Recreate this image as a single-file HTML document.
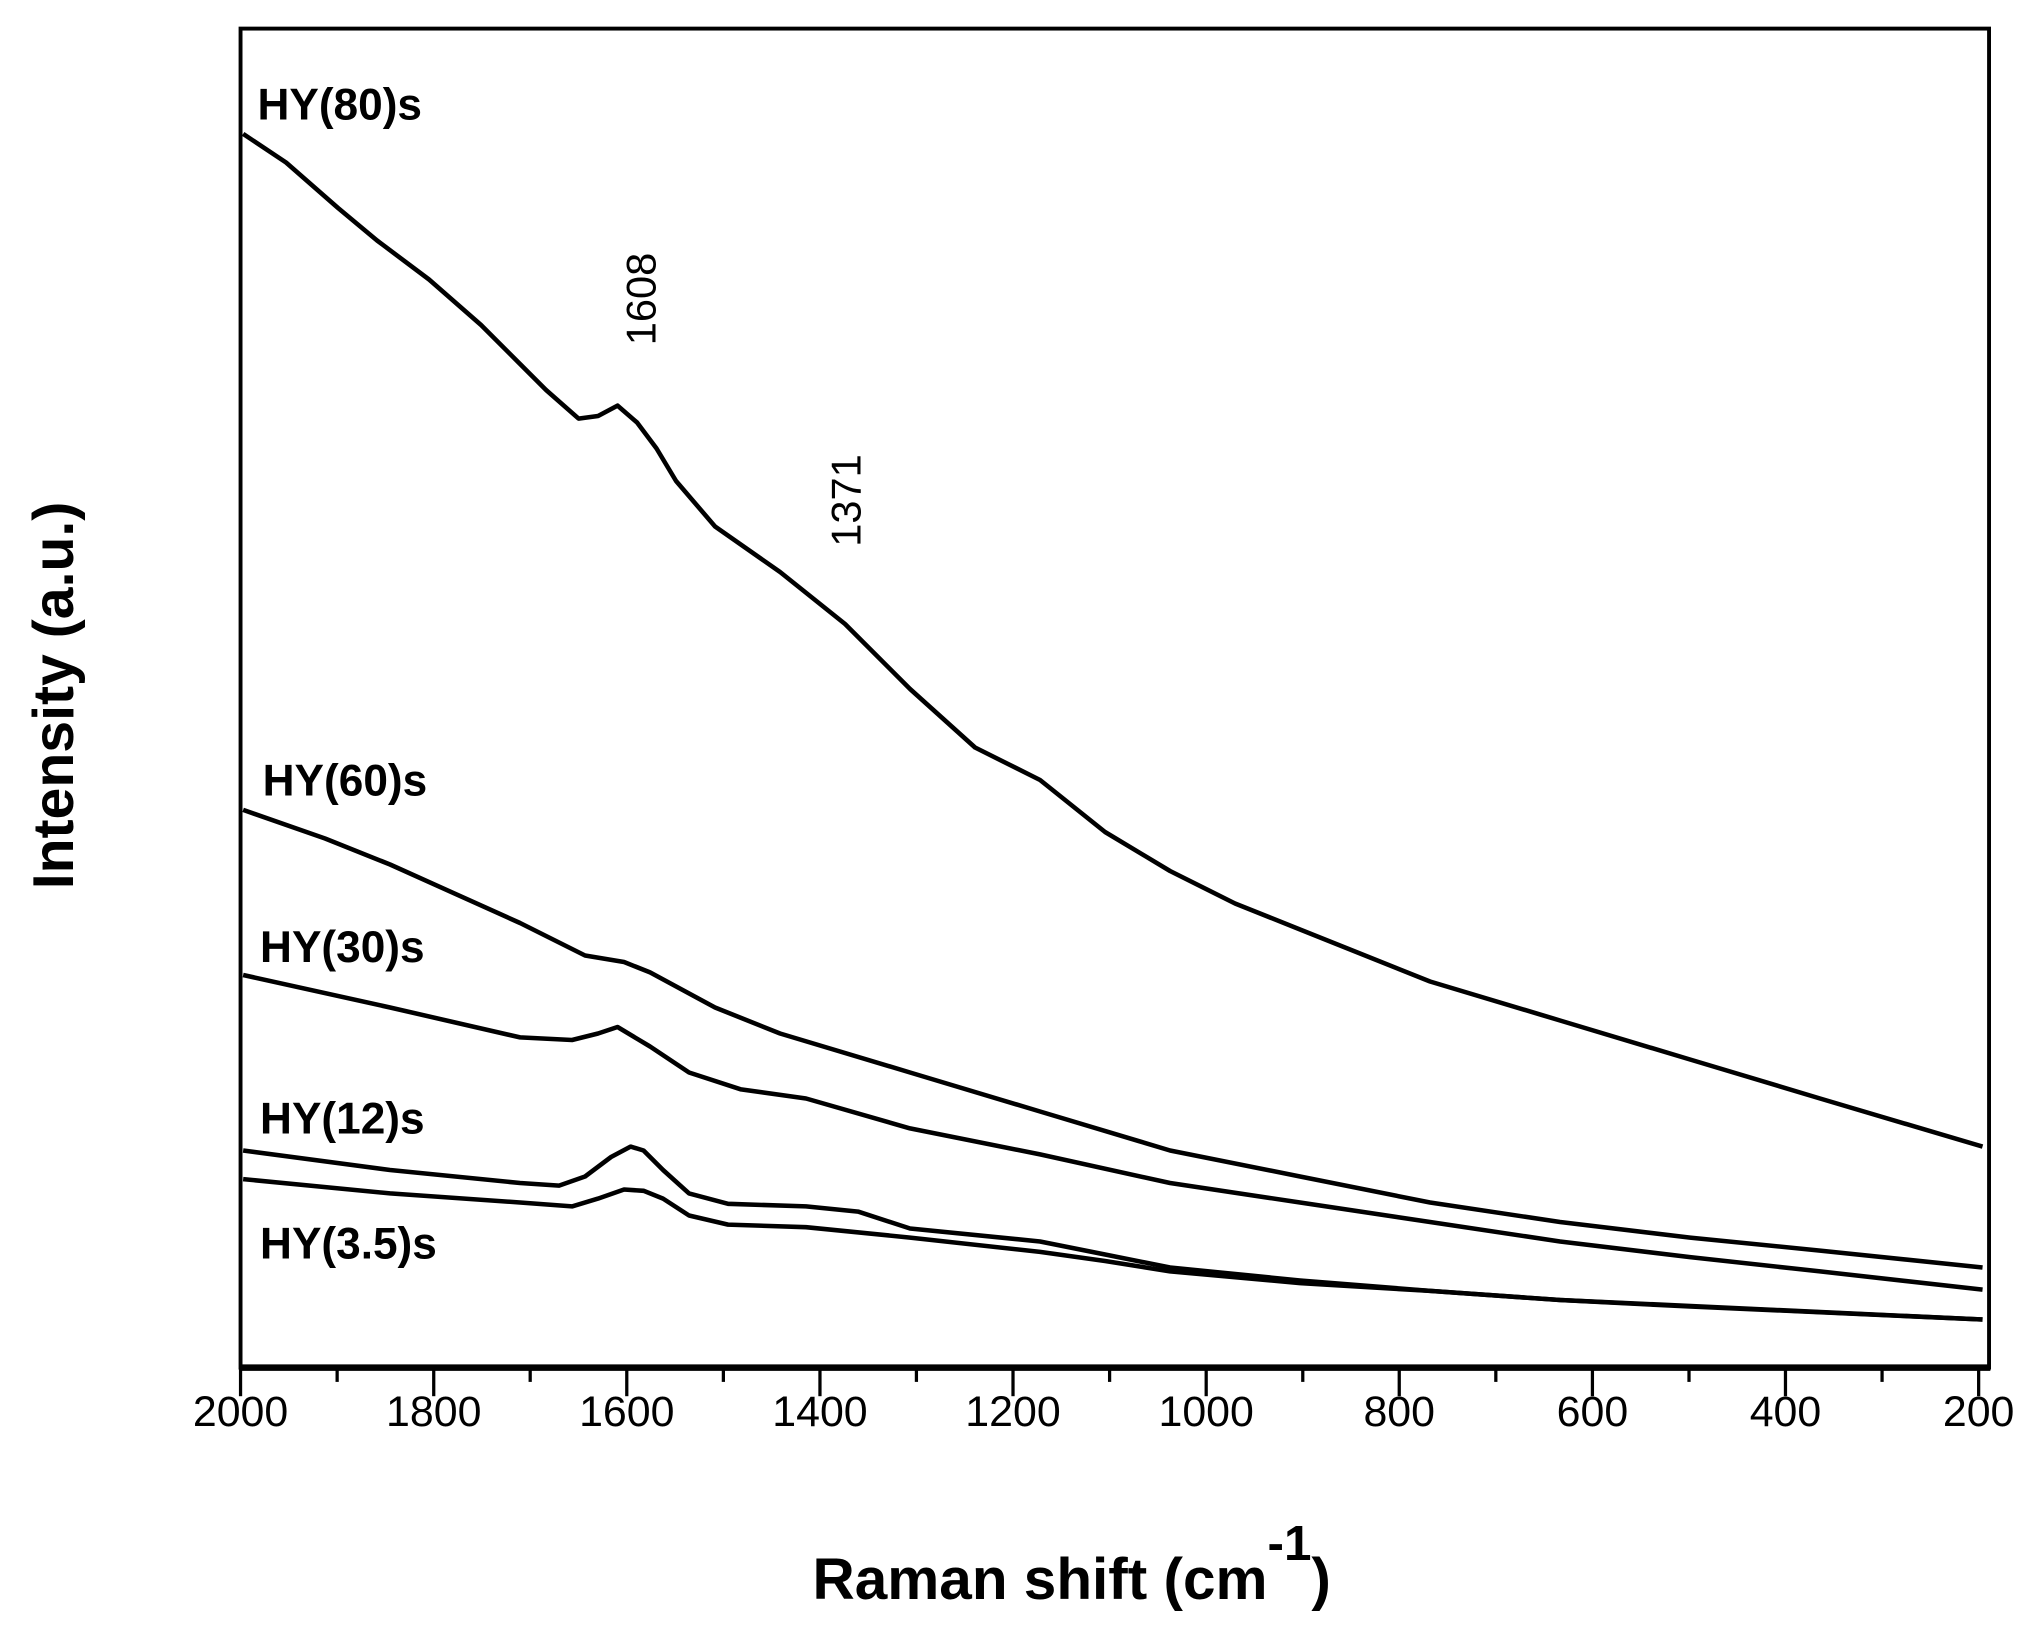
<!DOCTYPE html>
<html><head><style>html,body{margin:0;padding:0;background:#fff;}svg{display:block}</style></head>
<body>
<svg width="2032" height="1626" viewBox="0 0 1563 1250.77" xmlns="http://www.w3.org/2000/svg" font-family="Liberation Sans, Arial, sans-serif">
<rect x="185" y="22" width="1345" height="1030" fill="none" stroke="#000" stroke-width="3"/>
<line x1="184" y1="1052" x2="1531" y2="1052" stroke="#000" stroke-width="5"/>
<g stroke="#000" stroke-width="2.5">
<line x1="185" y1="1052" x2="185" y2="1074"/><line x1="259.3" y1="1052" x2="259.3" y2="1063"/>
<line x1="333.6" y1="1052" x2="333.6" y2="1074"/><line x1="407.8" y1="1052" x2="407.8" y2="1063"/>
<line x1="482.1" y1="1052" x2="482.1" y2="1074"/><line x1="556.4" y1="1052" x2="556.4" y2="1063"/>
<line x1="630.7" y1="1052" x2="630.7" y2="1074"/><line x1="704.9" y1="1052" x2="704.9" y2="1063"/>
<line x1="779.2" y1="1052" x2="779.2" y2="1074"/><line x1="853.5" y1="1052" x2="853.5" y2="1063"/>
<line x1="927.8" y1="1052" x2="927.8" y2="1074"/><line x1="1002.1" y1="1052" x2="1002.1" y2="1063"/>
<line x1="1076.3" y1="1052" x2="1076.3" y2="1074"/><line x1="1150.6" y1="1052" x2="1150.6" y2="1063"/>
<line x1="1224.9" y1="1052" x2="1224.9" y2="1074"/><line x1="1299.2" y1="1052" x2="1299.2" y2="1063"/>
<line x1="1373.4" y1="1052" x2="1373.4" y2="1074"/><line x1="1447.7" y1="1052" x2="1447.7" y2="1063"/>
<line x1="1522" y1="1052" x2="1522" y2="1074"/>
</g>
<g font-size="33" text-anchor="middle" fill="#000">
<text x="185" y="1097">2000</text><text x="333.6" y="1097">1800</text><text x="482.1" y="1097">1600</text>
<text x="630.7" y="1097">1400</text><text x="779.2" y="1097">1200</text><text x="927.8" y="1097">1000</text>
<text x="1076.3" y="1097">800</text><text x="1224.9" y="1097">600</text><text x="1373.4" y="1097">400</text>
<text x="1522" y="1097">200</text>
</g>
<text x="625" y="1230" font-size="45" font-weight="bold">Raman shift (cm<tspan font-size="38" dy="-30">-1</tspan><tspan dy="30">)</tspan></text>
<text transform="translate(56,535) rotate(-90)" font-size="44" font-weight="bold" text-anchor="middle">Intensity (a.u.)</text>
<g fill="none" stroke="#000" stroke-width="3.5" stroke-linejoin="round">
<polyline points="187,103 220,125 260,160 290,185 330,215 370,250 400,280 420,300 445,322 460,320 475,312 490,325 505,345 520,370 550,405 600,440 650,480 700,530 750,575 800,600 850,640 900,670 950,695 1000,715 1050,735 1100,755 1200,785 1300,815 1400,845 1525,882"/>
<polyline points="187,623 250,645 300,665 400,710 450,735 480,740 500,748 550,775 600,795 700,825 800,855 900,885 1000,905 1100,925 1200,940 1300,952 1400,962 1525,975"/>
<polyline points="187,750 300,775 400,798 440,800 460,795 475,790 500,805 530,825 570,838 620,845 700,868 800,888 900,910 1000,925 1100,940 1200,955 1300,967 1400,978 1525,992"/>
<polyline points="187,885 300,900 400,910 430,912 450,905 470,890 485,882 495,885 510,900 530,918 560,926 620,928 660,932 700,945 800,955 850,965 900,975 1000,985 1100,993 1200,1000 1300,1005 1525,1015"/>
<polyline points="187,907 300,918 400,925 440,928 460,922 480,915 495,916 510,922 530,935 560,942 620,944 700,952 800,963 850,970 900,978 1000,987 1100,993 1200,1000 1525,1015"/>
</g>
<g font-size="34" font-weight="bold">
<text x="198" y="92">HY(80)s</text>
<text x="202" y="612">HY(60)s</text>
<text x="200" y="740">HY(30)s</text>
<text x="200" y="872">HY(12)s</text>
<text x="200" y="968">HY(3.5)s</text>
</g>
<g font-size="32">
<text transform="translate(504,230) rotate(-90)" text-anchor="middle">1608</text>
<text transform="translate(662,385) rotate(-90)" text-anchor="middle">1371</text>
</g>
</svg>
</body></html>
